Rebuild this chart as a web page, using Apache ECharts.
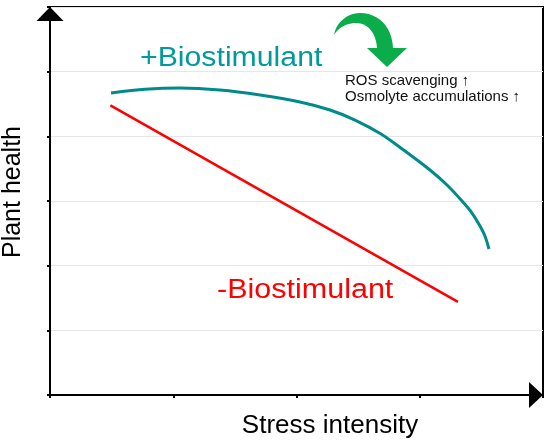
<!DOCTYPE html>
<html>
<head>
<meta charset="utf-8">
<script src="https://cdn.jsdelivr.net/npm/echarts@6/dist/echarts.min.js"></script>
<style>
html,body{margin:0;padding:0;background:#fff;}
#chart{width:550px;height:446px;}
</style>
</head>
<body>
<div id="chart"></div>
<script>
// Data (conceptual axes, arbitrary units)
var xAxisTitle = 'Stress intensity';
var yAxisTitle = 'Plant health';
var withBioLabel = '+Biostimulant';
var withoutBioLabel = '-Biostimulant';
var noteLines = ['ROS scavenging \u2191', 'Osmolyte accumulations \u2191'];

var withBioX = [0.495, 0.771, 1.055, 1.379, 1.704, 2.028, 2.272, 2.475, 2.686, 2.880, 3.083, 3.221, 3.343, 3.424, 3.489, 3.529, 3.562];
var withBioY = [4.670, 4.727, 4.747, 4.716, 4.639, 4.531, 4.407, 4.252, 4.036, 3.773, 3.479, 3.247, 3.000, 2.814, 2.613, 2.459, 2.258];
var withoutBioX = [0.49, 3.31];
var withoutBioY = [4.48, 1.44];

function pairs(xs, ys) { return xs.map(function (x, i) { return [x, ys[i]]; }); }

// decorative curved arrow outline (pixel outline of the green icon)
function cubic(p0, p1, p2, p3, n) {
  var out = [];
  for (var i = 1; i <= n; i++) {
    var t = i / n, u = 1 - t;
    out.push([
      u*u*u*p0[0] + 3*u*u*t*p1[0] + 3*u*t*t*p2[0] + t*t*t*p3[0],
      u*u*u*p0[1] + 3*u*u*t*p1[1] + 3*u*t*t*p2[1] + t*t*t*p3[1]
    ]);
  }
  return out;
}
var arrowPts = [[334,35]]
  .concat(cubic([334,35],[336,22],[348,13],[360,13],12))
  .concat(cubic([360,13],[378,13],[392,26],[393,48],12))
  .concat([[407,48],[387,67],[367,48],[377,48]])
  .concat(cubic([377,48],[376,33],[368,23],[356,23],12))
  .concat(cubic([356,23],[346,23],[338,28],[334,35],12));

var chart = echarts.init(document.getElementById('chart'));
var font = 'Liberation Sans, Arial, sans-serif';
chart.setOption({
  animation: false,
  backgroundColor: '#ffffff',
  grid: { left: 50, right: 7, top: 7, bottom: 51, containLabel: false, outerBoundsMode: 'none', show: true, borderColor: '#000', borderWidth: 2, backgroundColor: 'transparent' },
  xAxis: {
    type: 'value', min: 0, max: 4, interval: 1,
    name: xAxisTitle, nameLocation: 'middle', nameGap: 18,
    nameTextStyle: { fontFamily: font, fontSize: 26, color: '#000', padding: [0, 0, 0, 67] },
    axisLine: { show: true, onZero: false, lineStyle: { color: '#000', width: 2 }, symbol: ['none', 'triangle'], symbolSize: [26, 14], symbolOffset: [0, -7] },
    axisTick: { show: true, length: 3, lineStyle: { color: '#000', width: 2 } },
    axisLabel: { show: false },
    splitLine: { show: false }
  },
  yAxis: {
    type: 'value', min: 0, max: 6, interval: 1,
    name: yAxisTitle, nameLocation: 'middle', nameGap: 24,
    nameTextStyle: { fontFamily: font, fontSize: 25, color: '#000', padding: [0, 0, 0, 18] },
    axisLine: { show: true, onZero: false, lineStyle: { color: '#000', width: 2 }, symbol: ['none', 'triangle'], symbolSize: [27, 14], symbolOffset: [0, -7] },
    axisTick: { show: true, length: 3, lineStyle: { color: '#000', width: 2 } },
    axisLabel: { show: false },
    splitLine: { show: true, lineStyle: { color: '#e6e6e6', width: 1 } }
  },
  series: [
    {
      name: withBioLabel, type: 'line', smooth: 0.3, showSymbol: false, symbol: 'none',
      data: pairs(withBioX, withBioY),
      lineStyle: { color: '#008b8b', width: 3 }
    },
    {
      name: withoutBioLabel, type: 'line', showSymbol: false, symbol: 'none',
      data: pairs(withoutBioX, withoutBioY),
      lineStyle: { color: '#ff0000', width: 2.5 }
    }
  ],
  graphic: [
    {
      type: 'text', x: 140, y: 45, scaleX: 1.12,
      style: { text: withBioLabel, fontFamily: font, fontSize: 27, fill: '#009a9a', textAlign: 'left', textVerticalAlign: 'top' }
    },
    {
      type: 'text', x: 217, y: 277, scaleX: 1.13,
      style: { text: withoutBioLabel, fontFamily: font, fontSize: 27, fill: '#ff0000', textAlign: 'left', textVerticalAlign: 'top' }
    },
    {
      type: 'text', x: 345, y: 73,
      style: { text: noteLines[0], fontFamily: font, fontSize: 15, fill: '#111', textAlign: 'left', textVerticalAlign: 'top' }
    },
    {
      type: 'text', x: 345, y: 89,
      style: { text: noteLines[1], fontFamily: font, fontSize: 15, fill: '#111', textAlign: 'left', textVerticalAlign: 'top' }
    },
    {
      type: 'polygon',
      shape: { points: arrowPts },
      style: { fill: '#0aad4a' }
    }
  ]
});
</script>
</body>
</html>
